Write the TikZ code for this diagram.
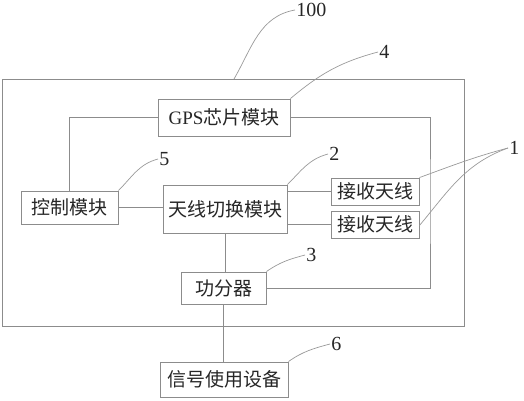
\documentclass[tikz,border=0pt]{standalone}
\usepackage{fontspec}
\setmainfont{Liberation Serif}
\newfontfamily\cjk{Noto Sans CJK SC}
\usetikzlibrary{calc}

\begin{document}
\begin{tikzpicture}[x=1pt,y=1pt,line width=0.9pt,
    box/.style={draw=black!45,text=black!85,inner sep=0pt,
        font=\cjk\fontsize{19}{19}\selectfont},
    lead/.style={draw=black!40,line width=0.7pt},
    num/.style={anchor=west,inner sep=1pt,text=black!85,
        font=\fontsize{20}{20}\selectfont}]
    \useasboundingbox (0,0) rectangle (524,400);
    % frame 100
    \draw[draw=black!45] (2,74) rectangle (464,321);
    \coordinate (100) at (234,321);
    % blocks
    \node[box,minimum width=132pt,minimum height=37pt] (4) at (224,282.5) {{\rmfamily GPS}芯片模块};
    \node[box,minimum width=97pt,minimum height=33pt] (5) at (69.5,192.5) {控制模块};
    \node[box,minimum width=124pt,minimum height=48pt] (2) at (225,191) {天线切换模块};
    \node[box,minimum width=88pt,minimum height=27pt] (1a) at (375,208.5) {接收天线};
    \node[box,minimum width=88pt,minimum height=27pt] (1b) at (375,175.5) {接收天线};
    \node[box,minimum width=85pt,minimum height=32pt] (3) at (223.5,112) {功分器};
    \node[box,minimum width=128pt,minimum height=35pt] (6) at (224,20.5) {信号使用设备};
    \coordinate (turn) at (430,200);
    % wiring
    \draw[draw=black!45] (4.west) -| (5.north);
    \draw[draw=black!45] (4.east) -| (turn) |- (3.east);
    \draw[draw=black!45] (5.east) -- (5.east -| 2.west);
    \draw[draw=black!45] (1a.west) -- (1a.west -| 2.east);
    \draw[draw=black!45] (1b.west) -- (1b.west -| 2.east);
    \draw[draw=black!45] (2.south) -- (2.south |- 3.north);
    \draw[draw=black!45] (3.south) -- (3.south |- 6.north);
    % reference numerals
    \node[num] (l100) at (295,390) {100};
    \node[num] (l4) at (378,348) {4};
    \node[num] (l5) at (158,241) {5};
    \node[num] (l2) at (328,246) {2};
    \node[num] (l1) at (508,252) {1};
    \node[num] (l3) at (305,145) {3};
    \node[num] (l6) at (330,56) {6};
    \draw[lead] (100) to[out=60,in=190] (l100.west);
    \draw[lead] (4.north east) to[out=40,in=195] (l4.west);
    \draw[lead] (5.north east) to[out=45,in=195] (l5.west);
    \draw[lead] (2.north east) to[out=45,in=195] (l2.west);
    \draw[lead] (1a.north east) to[out=20,in=195] (l1.west);
    \draw[lead] ($(1b.east)+(0,-1)$) to[out=50,in=200] (l1.west);
    \draw[lead] (3.north east) to[out=35,in=195] (l3.west);
    \draw[lead] (6.north east) to[out=35,in=195] (l6.west);
\end{tikzpicture}
\end{document}
